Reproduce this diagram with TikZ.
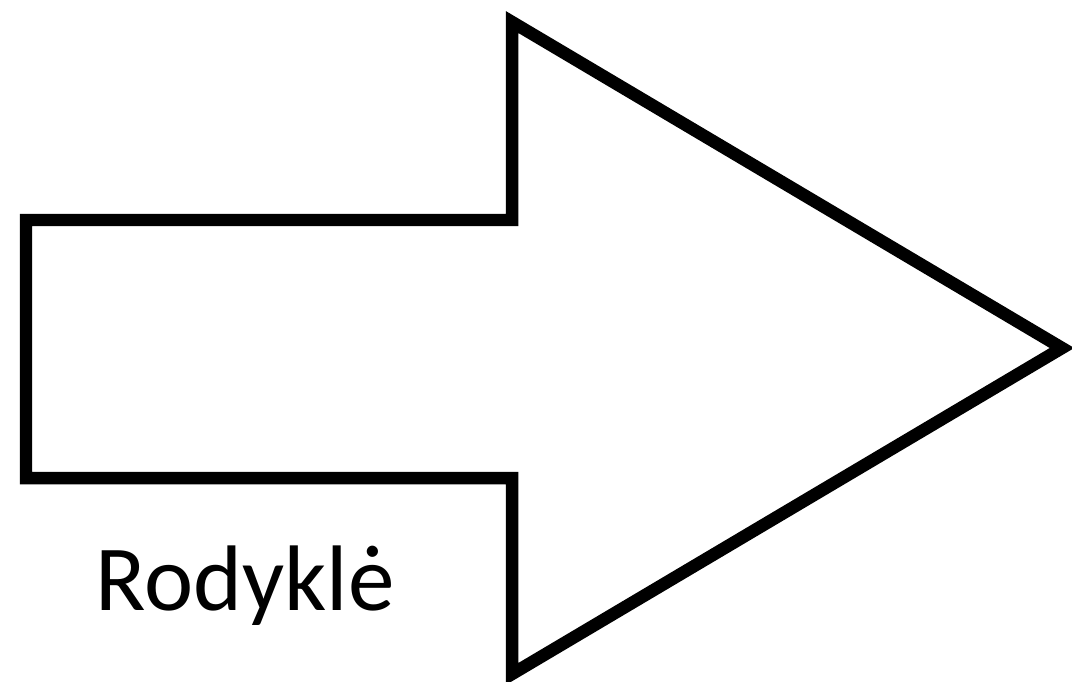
\documentclass[tikz,border=0pt]{standalone}
\usepackage{fontspec}
\setmainfont{Carlito}
\begin{document}
\begin{tikzpicture}[x=0.02cm,y=-0.02cm]
\useasboundingbox (0,0) rectangle (1072,682);
\draw[line width=0.25cm,line join=miter] (26,220) -- (512,220) -- (512,22) -- (1062,348)
  -- (512,674) -- (512,478) -- (26,478) -- cycle;
\node[anchor=base,inner sep=0pt] (label) at (245,610) {\fontsize{53}{60}\selectfont Rodyklė};
\end{tikzpicture}
\end{document}
